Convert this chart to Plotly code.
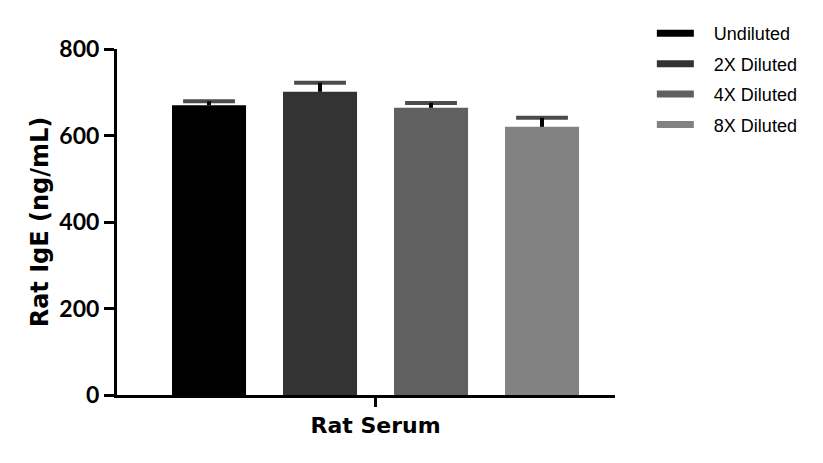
import plotly.graph_objects as go

# ── Data ──────────────────────────────────────────────────────────────────────
GROUP = ["Rat Serum"]
DILUTIONS = ["Undiluted", "2X Diluted", "4X Diluted", "8X Diluted"]
MEANS = [670, 701, 664, 620]
SEM = [9, 21, 11, 21]
COLOURS = ["#000000", "#333333", "#606060", "#828282"]

TICK_FONT = dict(family="Lato, sans-serif", size=23, color="black", weight="bold")
TITLE_FONT = dict(family="DejaVu Sans, sans-serif", size=24, color="black", weight="bold")
XTICK_FONT = dict(family="DejaVu Sans, sans-serif", size=22, color="black", weight="bold")

fig = go.Figure()

for i, (name, mean, err, colour) in enumerate(zip(DILUTIONS, MEANS, SEM, COLOURS)):
    fig.add_trace(go.Bar(
        x=GROUP, y=[mean], name=name, offsetgroup=str(i),
        marker=dict(color=colour, line=dict(width=0)),
        showlegend=False,
    ))
    # upper-only error bar: stem + cap, aligned with the bar via offsetgroup
    fig.add_trace(go.Scatter(
        x=GROUP * 2, y=[mean, mean + err], offsetgroup=str(i),
        mode="lines+markers",
        line=dict(color="black", width=4),
        marker=dict(symbol="line-ew", size=[0, 37], color="black",
                    line=dict(color="black", width=4)),
        showlegend=False, hoverinfo="skip",
    ))

# legend swatches drawn as thick lines (GraphPad style)
for i, (name, colour) in enumerate(zip(DILUTIONS, COLOURS)):
    fig.add_trace(go.Scatter(
        x=[None], y=[None], mode="lines", name="\u00a0\u00a0\u00a0" + name,
        line=dict(color=colour, width=7),
        legendgroup=f"g{i}",
    ))

# the page adds an 8px body margin, so the figure is offset by 8px
fig.update_layout(
    width=823, height=463,
    template="simple_white",
    plot_bgcolor="white", paper_bgcolor="white",
    barmode="group", bargap=0.2, bargroupgap=0.333,
    scattermode="group",
    margin=dict(l=109, r=216, t=41, b=76, autoexpand=False),
    legend=dict(x=1.074, y=1.098, xanchor="left", yanchor="top",
                font=dict(family="Liberation Sans, Arial, sans-serif", size=18, color="black"),
                tracegroupgap=4, itemwidth=37, bgcolor="rgba(0,0,0,0)"),
)

fig.update_xaxes(
    range=[-0.4658, 0.4315],
    showline=True, linecolor="black", linewidth=3,
    ticks="outside", ticklen=9, tickwidth=3, tickcolor="black",
    tickfont=XTICK_FONT, showgrid=False,
)
fig.update_yaxes(
    range=[0, 800], tickvals=[0, 200, 400, 600, 800],
    showline=True, linecolor="black", linewidth=3,
    ticks="outside", ticklen=10, tickwidth=3, tickcolor="black",
    tickfont=TICK_FONT, showgrid=False, zeroline=False,
    title=dict(text="Rat IgE (ng/mL)", font=TITLE_FONT, standoff=4),
)

fig.write_html("out.html")
